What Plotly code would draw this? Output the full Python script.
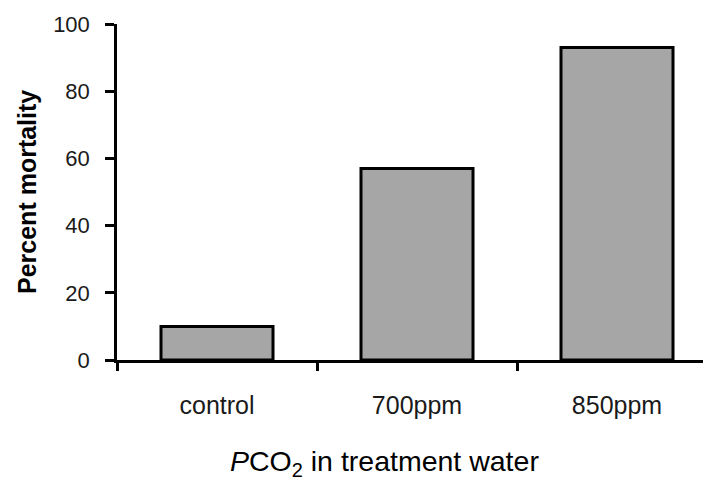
import plotly.graph_objects as go

categories = ["control", "700ppm", "850ppm"]
mortality = [10, 57, 93]
y_ticks = [0, 20, 40, 60, 80, 100]

fig = go.Figure()
fig.add_trace(go.Bar(
    x=categories, y=mortality,
    marker=dict(color="#a6a6a6", line=dict(color="black", width=3)),
    width=0.56,
))

# page body has an 8px margin, so the figure is 8px smaller and margins shifted
fig.update_layout(
    width=703, height=472,
    margin=dict(l=109, r=0, t=16, b=120),
    paper_bgcolor="white", plot_bgcolor="white",
    showlegend=False,
    font=dict(family="Liberation Sans, Arial, sans-serif", color="#1a1a1a"),
)
fig.update_xaxes(
    type="category", range=[-0.5, 2.47],
    showline=True, linecolor="black", linewidth=2.5,
    ticks="outside", tickson="boundaries", ticklen=8, tickwidth=2.5, tickcolor="black",
    tickfont=dict(size=25), ticklabelstandoff=21,
    showgrid=False, zeroline=False,
)
fig.update_yaxes(
    range=[0, 100], tickvals=y_ticks,
    showline=True, linecolor="black", linewidth=2.5,
    ticks="outside", ticklen=9, tickwidth=2.5, tickcolor="black",
    tickfont=dict(size=22), ticklabelstandoff=11,
    showgrid=False, zeroline=False,
)
fig.add_annotation(
    text="<b>Percent mortality</b>", textangle=-90,
    xref="paper", yref="paper", x=(27 - 117) / 594, y=0.5,
    xanchor="center", yanchor="middle", showarrow=False,
    font=dict(size=25, color="black"),
)
fig.add_annotation(
    text="<i>P</i>CO<sub>2</sub> in treatment water",
    xref="paper", yref="paper", x=(384 - 117) / 594, y=(360 - 463) / 336,
    xanchor="center", yanchor="middle", showarrow=False,
    font=dict(size=28.5, color="black"),
)
fig.write_html("out.html")
